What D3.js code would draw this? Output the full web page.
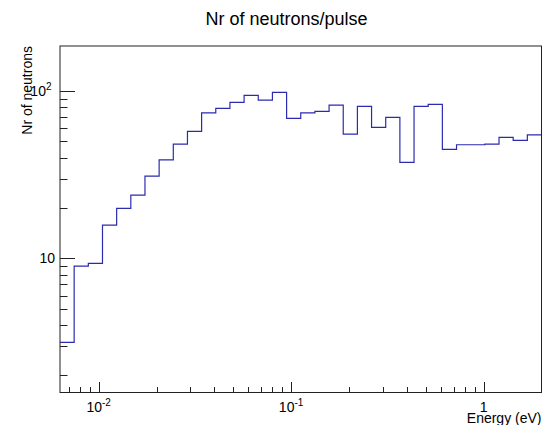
<!DOCTYPE html>
<html>
<head>
<meta charset="utf-8">
<script src="https://cdn.jsdelivr.net/npm/d3@7"></script>
<style>
  html, body { margin: 0; padding: 0; background: #fff; }
  svg { display: block; font-family: "Liberation Sans", Arial, Helvetica, sans-serif; }
</style>
</head>
<body>
<svg id="chart" width="543" height="425"></svg>
<script>
// ---- Data (histogram definition and bin contents) ----
const histXMin = 0.0063;   // eV
const histXMax = 2.0;      // eV
const nBins = 34;          // log-uniform bins
const counts = [3.15, 9.0, 9.33, 15.8, 19.9, 23.9, 31.0, 38.8, 48.2, 57.4,
                74.2, 78.8, 85.6, 94.2, 88.3, 98.2, 68.7, 74.2, 75.6, 82.5,
                55.3, 81.0, 60.7, 69.7, 37.5, 81.0, 83.3, 44.8, 47.8, 47.8,
                48.2, 52.9, 50.7, 54.8];
const yMin = 1.58, yMax = 186;
const xMajorTicks = [0.01, 0.1, 1];
const xMajorLabels = [["10", "-2"], ["10", "-1"], ["1", ""]];
const yMajorTicks = [10, 100];
const yMajorLabels = [["10", ""], ["10", "2"]];
const titleText = "Nr of neutrons/pulse";
const xTitle = "Energy (eV)";
const yTitle = "Nr of neutrons";

// ---- Layout ----
const mLeft = 60, mRight = 541.5, mTop = 46, mBottom = 392.5;
const svg = d3.select("#chart");

const x = d3.scaleLog().domain([histXMin, histXMax]).range([mLeft, mRight]);
const y = d3.scaleLog().domain([yMin, yMax]).range([mBottom, mTop]);

// bin edges (log-uniform, as the histogram was booked)
const lmin = Math.log10(histXMin), lmax = Math.log10(histXMax);
const edges = d3.range(nBins + 1).map(i => Math.pow(10, lmin + (lmax - lmin) * i / nBins));

// ---- Title ----
svg.append("text").attr("x", 286.5).attr("y", 25)
  .attr("text-anchor", "middle").attr("font-size", 18).attr("fill", "#000")
  .text(titleText);

// ---- Histogram outline ----
const clipId = "clip";
svg.append("clipPath").attr("id", clipId).append("rect")
  .attr("x", mLeft).attr("y", mTop).attr("width", mRight - mLeft).attr("height", mBottom - mTop);
let pts = [];
counts.forEach((c, i) => {
  pts.push([x(edges[i]), y(c)]);
  pts.push([x(edges[i + 1]), y(c)]);
});
svg.append("path")
  .attr("d", d3.line()(pts))
  .attr("fill", "none").attr("stroke", "#2b2bb0").attr("stroke-width", 1.2)
  .attr("clip-path", `url(#${clipId})`);

// ---- Frame ----
svg.append("rect").attr("x", mLeft).attr("y", mTop)
  .attr("width", mRight - mLeft).attr("height", mBottom - mTop)
  .attr("fill", "none").attr("stroke", "#222").attr("stroke-width", 1);

// ---- X axis ticks ----
const xMinor = [];
for (let d = -3; d <= 0; d++) for (let m = 2; m <= 9; m++) {
  const v = m * Math.pow(10, d);
  if (v > histXMin && v < histXMax) xMinor.push(v);
}
const gx = svg.append("g").attr("stroke", "#222").attr("stroke-width", 1);
xMinor.forEach(v => {
  const px = Math.round(x(v)) + 0.5;
  gx.append("line").attr("x1", px).attr("x2", px).attr("y1", mBottom).attr("y2", mBottom - 5.5);
});
xMajorTicks.forEach(v => {
  const px = Math.round(x(v)) + 0.5;
  gx.append("line").attr("x1", px).attr("x2", px).attr("y1", mBottom).attr("y2", mBottom - 10.5);
});
xMajorTicks.forEach((v, i) => {
  const t = svg.append("text").attr("x", x(v)).attr("y", 411.5)
    .attr("text-anchor", "middle").attr("font-size", 14).attr("fill", "#000");
  t.append("tspan").text(xMajorLabels[i][0]);
  if (xMajorLabels[i][1]) {
    t.append("tspan").attr("font-size", 10).attr("dy", -6).text(xMajorLabels[i][1]);
  }
});

// ---- Y axis ticks ----
const yMinor = [];
for (let d = 0; d <= 2; d++) for (let m = 2; m <= 9; m++) {
  const v = m * Math.pow(10, d);
  if (v > yMin && v < yMax) yMinor.push(v);
}
const gy = svg.append("g").attr("stroke", "#222").attr("stroke-width", 1);
yMinor.forEach(v => {
  const py = Math.round(y(v)) + 0.5;
  gy.append("line").attr("x1", mLeft).attr("x2", mLeft + 7.5).attr("y1", py).attr("y2", py);
});
yMajorTicks.forEach(v => {
  const py = Math.round(y(v)) + 0.5;
  gy.append("line").attr("x1", mLeft).attr("x2", mLeft + 15).attr("y1", py).attr("y2", py);
});
yMajorTicks.forEach((v, i) => {
  const sup = yMajorLabels[i][1];
  const t = svg.append("text").attr("x", sup ? 51.5 : 55).attr("y", y(v) + 5)
    .attr("text-anchor", "end").attr("font-size", 14).attr("fill", "#000");
  t.append("tspan").text(yMajorLabels[i][0]);
  if (sup) t.append("tspan").attr("font-size", 10).attr("dy", -6).text(sup);
});

// ---- Axis titles ----
svg.append("text").attr("x", mRight).attr("y", 422.5)
  .attr("text-anchor", "end").attr("font-size", 14).attr("fill", "#000")
  .text(xTitle);
svg.append("text")
  .attr("transform", `translate(32,${mTop}) rotate(-90)`)
  .attr("text-anchor", "end").attr("font-size", 14).attr("fill", "#000")
  .text(yTitle);
</script>
</body>
</html>
